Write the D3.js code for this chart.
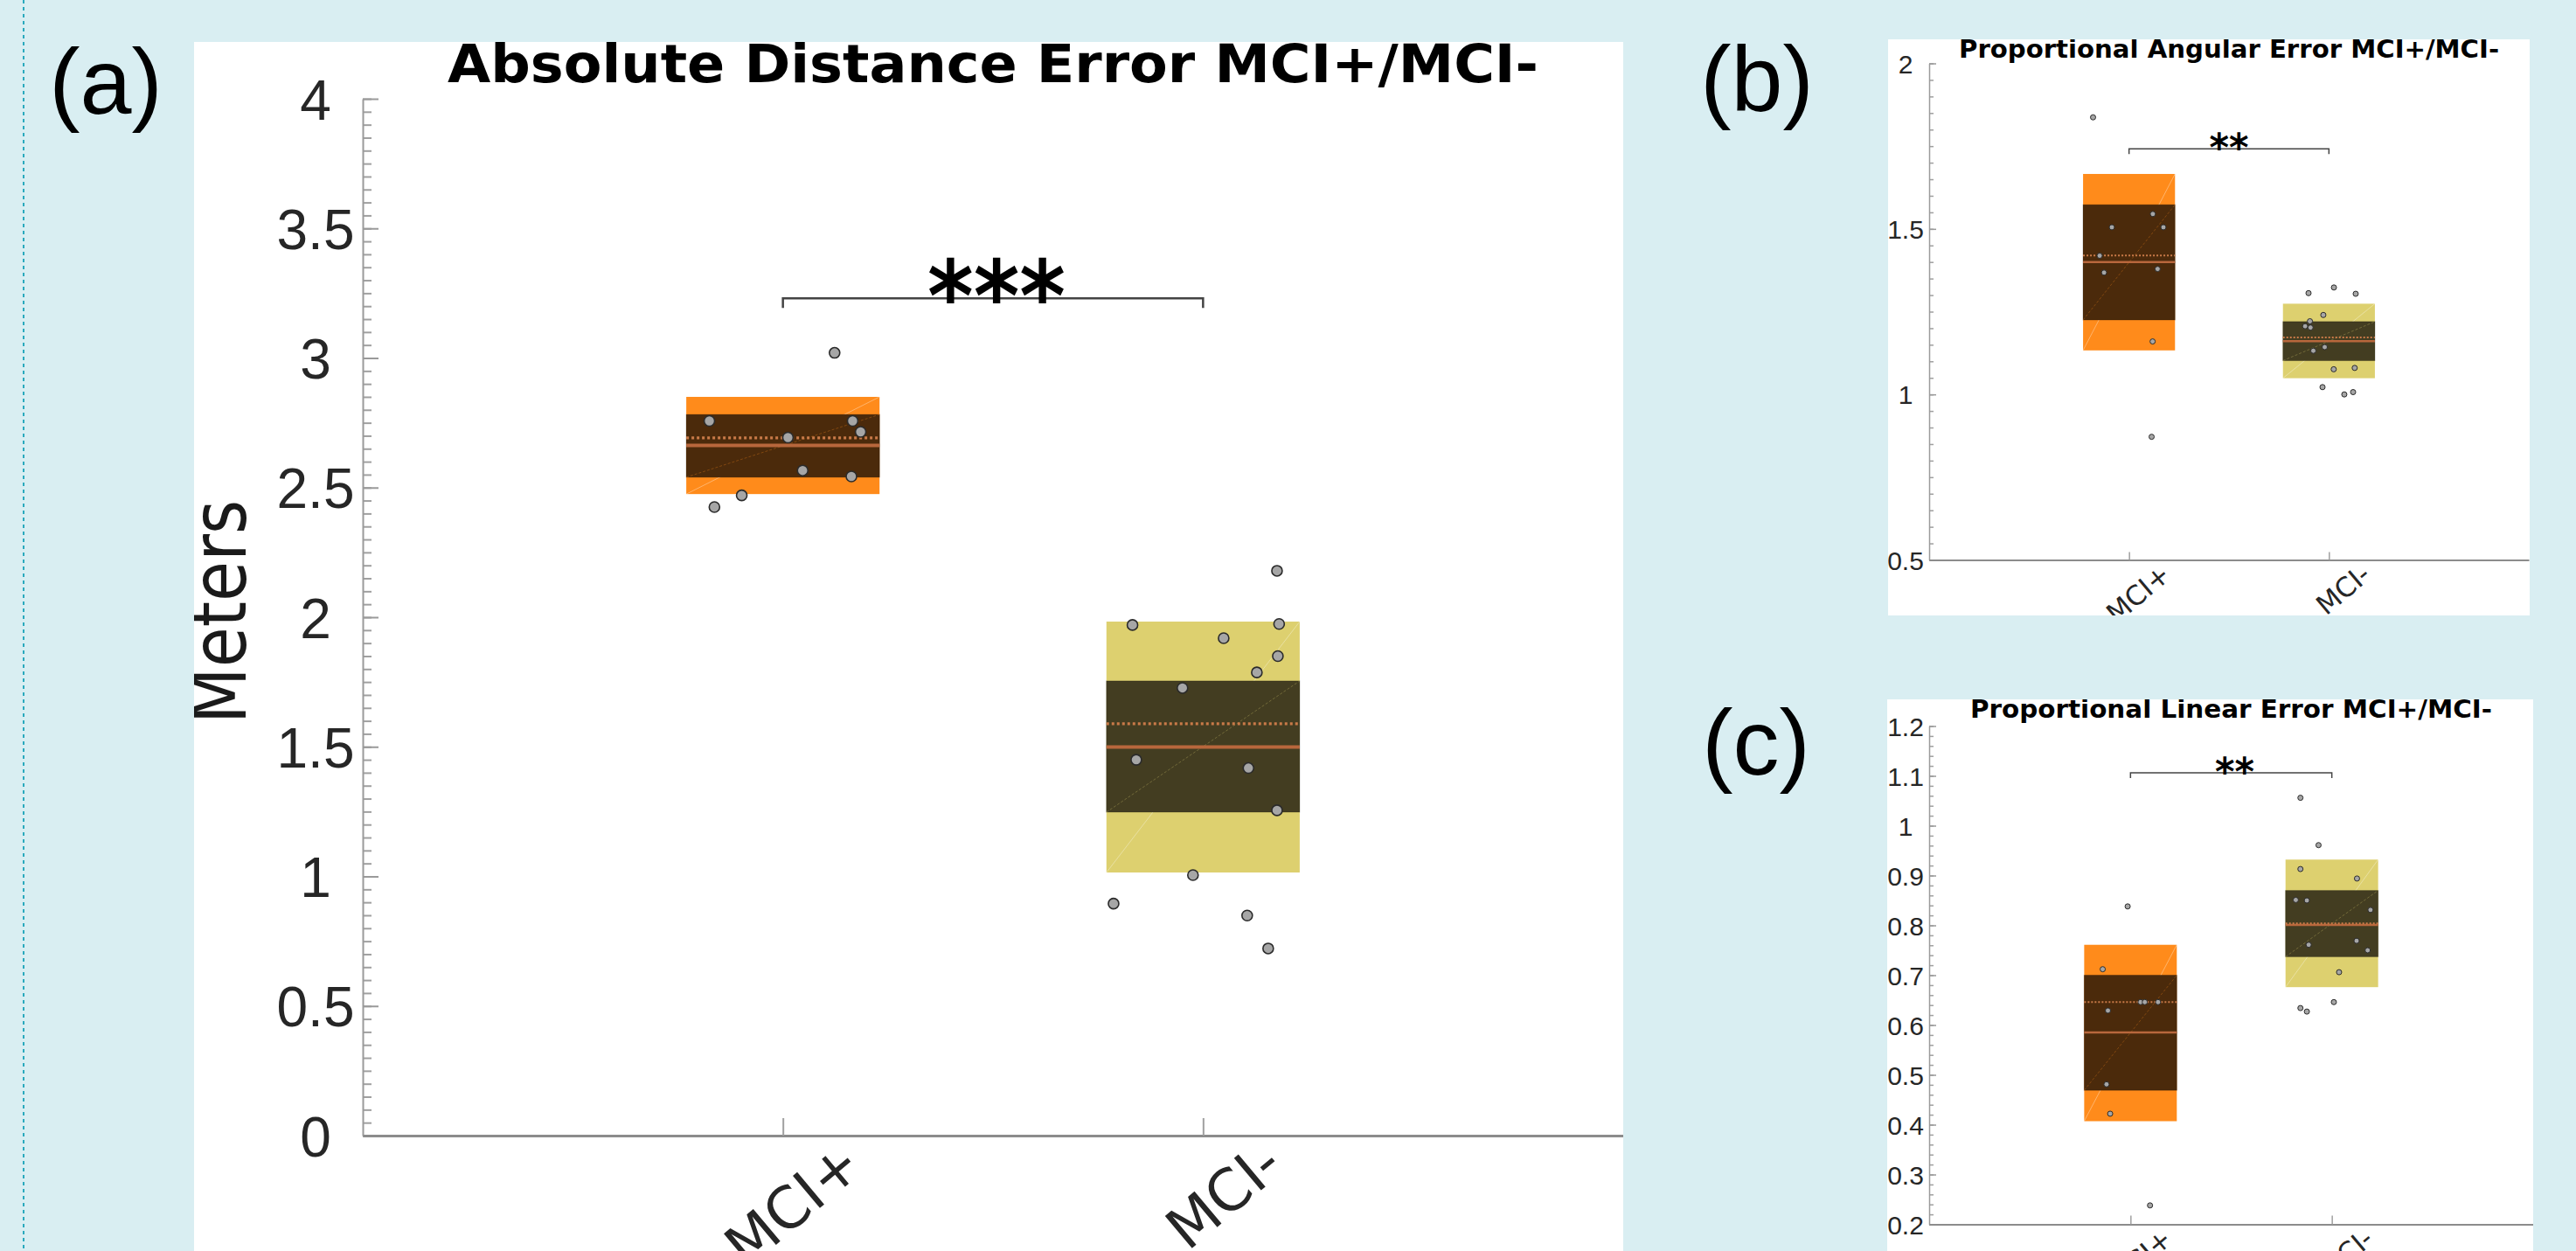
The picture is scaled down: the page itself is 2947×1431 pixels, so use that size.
<!DOCTYPE html>
<html>
<head>
<meta charset="utf-8">
<title>MCI+ / MCI- error box plots</title>
<script src="https://d3js.org/d3.v7.min.js"></script>
<style>
  body { margin: 0; background: #d9eef2; }
  svg { display: block; }
</style>
</head>
<body>
<script>
var W = 2947, H = 1431;
var groups = ["MCI+", "MCI-"];

// (a) absolute distance error (meters)
var absPoints = [[3.02, 2.757, 2.757, 2.715, 2.693, 2.566, 2.543, 2.470, 2.425],
                 [2.179, 1.970, 1.974, 1.919, 1.850, 1.787, 1.727, 1.450, 1.418, 1.255, 1.005, 0.895, 0.849, 0.722]];
var absJitter = [[0.123, -0.175, 0.166, 0.185, 0.012, 0.047, 0.163, -0.098, -0.163],
                 [0.176, -0.168, 0.181, 0.049, 0.178, 0.128, -0.049, -0.159, 0.108, 0.176, -0.024, -0.213, 0.105, 0.155]];
var absMean = [2.692, 1.589];
var absMedian = [2.663, 1.499];
var absInner = [[2.540, 2.782], [1.248, 1.754]];
var absOuter = [[2.475, 2.850], [1.015, 1.983]];
var absTicks = [0, 0.5, 1, 1.5, 2, 2.5, 3, 3.5, 4];
var absTickLabels = ["0", "0.5", "1", "1.5", "2", "2.5", "3", "3.5", "4"];
var absSigLevel = 3.23, absSigLabel = "***";

// (b) proportional angular error
var angPoints = [[1.837, 1.545, 1.505, 1.505, 1.419, 1.379, 1.368, 1.160, 0.872],
                 [1.306, 1.323, 1.304, 1.240, 1.221, 1.206, 1.202, 1.143, 1.132, 1.076, 1.080, 1.022, 1.000, 1.007]];
var angJitter = [[-0.180, 0.119, -0.086, 0.172, -0.147, 0.143, -0.125, 0.118, 0.113],
                 [-0.102, 0.025, 0.134, -0.028, -0.095, -0.119, -0.092, -0.021, -0.078, 0.024, 0.129, -0.032, 0.077, 0.121]];
var angMean = [1.420, 1.172];
var angMedian = [1.400, 1.161];
var angInner = [[1.225, 1.573], [1.102, 1.220]];
var angOuter = [[1.133, 1.666], [1.049, 1.274]];
var angTicks = [0.5, 1, 1.5, 2];
var angTickLabels = ["0.5", "1", "1.5", "2"];
var angSigLevel = 1.742, angSigLabel = "**";

// (c) proportional linear error
var linPoints = [[0.838, 0.712, 0.629, 0.646, 0.646, 0.646, 0.481, 0.422, 0.238],
                 [1.056, 0.961, 0.913, 0.894, 0.851, 0.850, 0.831, 0.761, 0.769, 0.750, 0.706, 0.646, 0.634, 0.627]];
var linJitter = [[-0.014, -0.138, -0.112, 0.050, 0.071, 0.137, -0.119, -0.101, 0.097],
                 [-0.156, -0.066, -0.156, 0.125, -0.179, -0.124, 0.192, -0.115, 0.123, 0.178, 0.036, 0.010, -0.156, -0.124]];
var linMean = [0.646, 0.804];
var linMedian = [0.585, 0.801];
var linInner = [[0.469, 0.700], [0.737, 0.870]];
var linOuter = [[0.407, 0.761], [0.676, 0.932]];
var linTicks = [0.2, 0.3, 0.4, 0.5, 0.6, 0.7, 0.8, 0.9, 1, 1.1, 1.2];
var linTickLabels = ["0.2", "0.3", "0.4", "0.5", "0.6", "0.7", "0.8", "0.9", "1", "1.1", "1.2"];
var linSigLevel = 1.106, linSigLabel = "**";

var lightFill = ["#ff8b1b", "#ddd06f"];
var darkFill = ["#4b2a0b", "#433d21"];

function minorTicks(lo, hi, step) {
  return d3.range(Math.round((hi - lo) / step) + 1).map(function(k){ return +(lo + k * step).toFixed(3); });
}

var svg = d3.select("body").append("svg").attr("width", W).attr("height", H);
svg.append("rect").attr("width", W).attr("height", H).attr("fill", "#d9eef2");
svg.append("line").attr("x1", 27).attr("x2", 27).attr("y1", 0).attr("y2", H)
  .attr("stroke", "#2aa9bd").attr("stroke-width", 2).attr("stroke-dasharray", "4,4");

function drawPanel(p) {
  var clipId = "clip-" + p.id;
  svg.append("clipPath").attr("id", clipId).append("rect")
    .attr("x", p.frame[0]).attr("y", p.frame[1]).attr("width", p.frame[2]).attr("height", p.frame[3]);
  var g = svg.append("g").attr("clip-path", "url(#" + clipId + ")");
  g.append("rect").attr("x", p.frame[0]).attr("y", p.frame[1])
    .attr("width", p.frame[2]).attr("height", p.frame[3]).attr("fill", "#fff");

  var x = d3.scaleLinear().domain([0, 3]).range([p.left, p.right]);
  var y = d3.scaleLinear().domain(p.yDomain).range([p.bottom, p.top]);
  var hw = 0.23;

  // y axis: minor then major ticks, pointing inward
  var minor = g.append("g").attr("transform", "translate(" + p.left + ",0)")
    .call(d3.axisLeft(y).tickValues(p.minor).tickSize(-p.minorLen).tickFormat(""));
  minor.select(".domain").remove();
  minor.selectAll("line").attr("stroke", "#a0a0a0").attr("stroke-width", p.tickW);

  var yAxis = g.append("g").attr("transform", "translate(" + p.left + ",0)")
    .call(d3.axisLeft(y).tickValues(p.ticks).tickSize(-p.majorLen).tickSizeOuter(0)
      .tickPadding(p.labelPad)
      .tickFormat(function(d){ return p.tickLabels[p.ticks.indexOf(d)]; }));
  yAxis.select(".domain").attr("stroke", "#9a9a9a").attr("stroke-width", p.tickW);
  yAxis.selectAll("line").attr("stroke", "#9a9a9a").attr("stroke-width", p.tickW);
  yAxis.attr("font-family", "'Liberation Sans', Arial, sans-serif").attr("font-size", p.tickFont);
  yAxis.selectAll("text").attr("text-anchor", "middle").attr("fill", "#262626")
    .attr("dy", "0.36em");

  // x axis, rotated category labels
  var xAxis = g.append("g").attr("transform", "translate(0," + p.bottom + ")")
    .call(d3.axisBottom(x).tickValues([1, 2]).tickSize(-p.xTickLen).tickSizeOuter(0)
      .tickFormat(function(d){ return groups[d - 1]; }));
  xAxis.select(".domain").attr("stroke", "#8c8c8c").attr("stroke-width", p.axisW);
  xAxis.selectAll("line").attr("stroke", "#a0a0a0").attr("stroke-width", p.tickW);
  xAxis.attr("font-family", "'DejaVu Sans', Verdana, sans-serif").attr("font-size", p.xFont);
  xAxis.selectAll("text").attr("fill", "#262626").attr("text-anchor", "end")
    .attr("y", 0).attr("dy", 0)
    .attr("transform", "translate(" + p.xLabelDx + "," + p.xLabelDy + ") rotate(-40)");

  // boxes
  var box = g.selectAll(".box").data(groups).enter().append("g").attr("class", "box");
  function bx0(d, i){ return x(i + 1 - hw); }
  function bx1(d, i){ return x(i + 1 + hw); }
  box.append("rect").attr("x", bx0)
    .attr("y", function(d, i){ return y(p.outer[i][1]); })
    .attr("width", function(d, i){ return bx1(d, i) - bx0(d, i); })
    .attr("height", function(d, i){ return y(p.outer[i][0]) - y(p.outer[i][1]); })
    .attr("fill", function(d, i){ return lightFill[i]; });
  box.append("line").attr("x1", bx0).attr("x2", bx1)
    .attr("y1", function(d, i){ return y(p.outer[i][0]); })
    .attr("y2", function(d, i){ return y(p.outer[i][1]); })
    .attr("stroke", "rgba(255,255,255,0.35)").attr("stroke-width", 1);
  box.append("rect").attr("x", bx0)
    .attr("y", function(d, i){ return y(p.inner[i][1]); })
    .attr("width", function(d, i){ return bx1(d, i) - bx0(d, i); })
    .attr("height", function(d, i){ return y(p.inner[i][0]) - y(p.inner[i][1]); })
    .attr("fill", function(d, i){ return darkFill[i]; })
    .attr("stroke", "rgba(0,0,0,0.25)").attr("stroke-width", 1);
  box.append("line").attr("x1", bx0).attr("x2", bx1)
    .attr("y1", function(d, i){ return y(p.inner[i][0]); })
    .attr("y2", function(d, i){ return y(p.inner[i][1]); })
    .attr("stroke", function(d, i){ return lightFill[i]; }).attr("stroke-opacity", 0.3)
    .attr("stroke-width", 1).attr("stroke-dasharray", "3,2");
  box.append("line").attr("x1", bx0).attr("x2", bx1)
    .attr("y1", function(d, i){ return y(p.median[i]); })
    .attr("y2", function(d, i){ return y(p.median[i]); })
    .attr("stroke", "#b8673c").attr("stroke-width", p.medianW);
  box.append("line").attr("x1", bx0).attr("x2", bx1)
    .attr("y1", function(d, i){ return y(p.mean[i]); })
    .attr("y2", function(d, i){ return y(p.mean[i]); })
    .attr("stroke", "#c97a48").attr("stroke-width", p.medianW * 0.8)
    .attr("stroke-dasharray", p.meanDash);

  // raw points
  var pts = [];
  p.points.forEach(function(arr, gi){
    arr.forEach(function(v, k){ pts.push({g: gi, v: v, j: p.jitter[gi][k]}); });
  });
  g.selectAll(".pt").data(pts).enter().append("circle").attr("class", "pt")
    .attr("cx", function(d){ return x(d.g + 1 + d.j); })
    .attr("cy", function(d){ return y(d.v); })
    .attr("r", p.r)
    .attr("fill", "#a6a6a6").attr("stroke", "#2b2b2b").attr("stroke-width", p.ptStroke);

  // significance bracket
  var by = y(p.sigLevel);
  g.append("path")
    .attr("d", "M" + x(1) + "," + (by + p.legLen) + "V" + by + "H" + x(2) + "V" + (by + p.legLen))
    .attr("fill", "none").attr("stroke", "#444").attr("stroke-width", p.bracketW);
  g.append("text").attr("x", (x(1) + x(2)) / 2 + p.starDx)
    .attr("y", by - p.starGap + 0.38 * p.starSize)
    .attr("text-anchor", "middle").attr("font-family", "'DejaVu Sans', sans-serif")
    .attr("font-weight", "bold").attr("font-size", p.starSize)
    .attr("textLength", p.starLen).attr("lengthAdjust", "spacingAndGlyphs")
    .text(p.sigLabel);

  // title
  g.append("text").attr("x", (p.left + p.right) / 2).attr("y", p.titleY)
    .attr("text-anchor", "middle").attr("font-family", "'DejaVu Sans', Verdana, sans-serif")
    .attr("font-weight", "bold").attr("font-size", p.titleSize)
    .attr("textLength", p.titleLen).attr("lengthAdjust", "spacingAndGlyphs")
    .text(p.title);

  if (p.yLabel) {
    g.append("text").attr("transform", "translate(" + p.yLabelX + "," + p.yLabelY + ") rotate(-90)")
      .attr("text-anchor", "middle").attr("font-family", "'DejaVu Sans', Verdana, sans-serif")
      .attr("font-size", p.yLabelSize).attr("fill", "#1a1a1a")
      .attr("textLength", p.yLabelLen).attr("lengthAdjust", "spacingAndGlyphs")
      .text(p.yLabel);
  }

  // panel letter on the background
  svg.append("text").attr("x", p.letterX).attr("y", p.letterY)
    .attr("text-anchor", "middle").attr("font-family", "'Liberation Sans', Arial, sans-serif")
    .attr("font-size", 106).attr("fill", "#000").text(p.letter);
}

drawPanel({
  id: "a", frame: [222, 48, 1635, 1383],
  left: 415, right: 1857, bottom: 1299, top: 113, yDomain: [0, 4],
  ticks: absTicks, tickLabels: absTickLabels, minor: minorTicks(0, 4, 0.05),
  points: absPoints, jitter: absJitter, mean: absMean, median: absMedian, inner: absInner, outer: absOuter,
  sigLevel: absSigLevel, sigLabel: absSigLabel,
  majorLen: 18, minorLen: 10, xTickLen: 20, tickW: 2, axisW: 3, labelPad: 54, tickFont: 64,
  xFont: 66, xLabelDx: 94, xLabelDy: 39,
  r: 6, ptStroke: 1.6, medianW: 4, meanDash: "3,3",
  legLen: 11, bracketW: 2.5, starSize: 112, starLen: 158, starGap: 6, starDx: 4,
  title: "Absolute Distance Error MCI+/MCI-", titleY: 94, titleSize: 60, titleLen: 1248,
  yLabel: "Meters", yLabelX: 281, yLabelY: 700, yLabelSize: 88, yLabelLen: 256,
  letter: "(a)", letterX: 121, letterY: 130
});

drawPanel({
  id: "b", frame: [2160, 45, 734, 659],
  left: 2207, right: 2893, bottom: 640.5, top: 72.5, yDomain: [0.5, 2],
  ticks: angTicks, tickLabels: angTickLabels, minor: minorTicks(0.5, 2, 0.05),
  points: angPoints, jitter: angJitter, mean: angMean, median: angMedian, inner: angInner, outer: angOuter,
  sigLevel: angSigLevel, sigLabel: angSigLabel,
  majorLen: 8, minorLen: 5, xTickLen: 9, tickW: 1.5, axisW: 2, labelPad: 27, tickFont: 30,
  xFont: 31, xLabelDx: 49, xLabelDy: 20,
  r: 3, ptStroke: 1, medianW: 2.5, meanDash: "2,2",
  legLen: 6, bracketW: 1.5, starSize: 45, starLen: 45, starGap: 3, starDx: 0,
  title: "Proportional Angular Error MCI+/MCI-", titleY: 66, titleSize: 28, titleLen: 618,
  letter: "(b)", letterX: 2010, letterY: 127
});

drawPanel({
  id: "c", frame: [2159, 800, 739, 631],
  left: 2207, right: 2898, bottom: 1400.5, top: 830.5, yDomain: [0.2, 1.2],
  ticks: linTicks, tickLabels: linTickLabels, minor: minorTicks(0.2, 1.2, 0.02),
  points: linPoints, jitter: linJitter, mean: linMean, median: linMedian, inner: linInner, outer: linOuter,
  sigLevel: linSigLevel, sigLabel: linSigLabel,
  majorLen: 8, minorLen: 5, xTickLen: 10, tickW: 1.5, axisW: 2, labelPad: 27, tickFont: 30,
  xFont: 31, xLabelDx: 49, xLabelDy: 20,
  r: 3, ptStroke: 1, medianW: 2.5, meanDash: "2,2",
  legLen: 6, bracketW: 1.5, starSize: 45, starLen: 45, starGap: 3, starDx: 4,
  title: "Proportional Linear Error MCI+/MCI-", titleY: 821, titleSize: 28, titleLen: 597,
  letter: "(c)", letterX: 2009, letterY: 886
});
</script>
</body>
</html>
